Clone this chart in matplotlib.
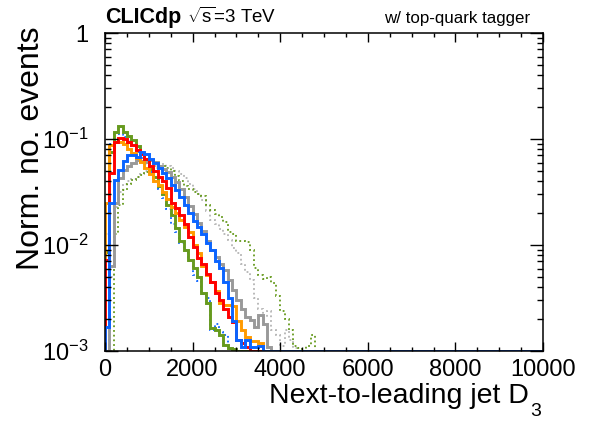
import numpy as np
import matplotlib
matplotlib.use('Agg')
import matplotlib.pyplot as plt
from matplotlib.ticker import MultipleLocator, FixedLocator, LogLocator, NullFormatter

plt.rcParams['font.family'] = ['Liberation Sans', 'DejaVu Sans']
plt.rcParams['mathtext.fontset'] = 'custom'
plt.rcParams['mathtext.rm'] = 'Liberation Sans'
plt.rcParams['mathtext.it'] = 'Liberation Sans:italic'
plt.rcParams['mathtext.bf'] = 'Liberation Sans:bold'

# histogram binning: 100 bins of width 100 from 0 to 10000
bin_edges = np.linspace(0, 10000, 101)

# normalised bin contents (bins not listed are empty)
green_solid = [0.0085, 0.0759, 0.117, 0.132, 0.117, 0.107, 0.0977, 0.0851, 0.0741, 0.0646,
               0.0525, 0.0437, 0.0363, 0.0302, 0.0240, 0.0191, 0.0145, 0.0110, 0.00891, 0.00724,
               0.00603, 0.00501, 0.00355, 0.00282, 0.00166, 0.00158, 0.00141, 0.00115, 0.00107, 0.00105]
red_solid = [0.00724, 0.0479, 0.0933, 0.102, 0.100, 0.0933, 0.0871, 0.0794, 0.0724, 0.0646,
             0.0562, 0.0501, 0.0437, 0.0398, 0.0347, 0.0251, 0.0224, 0.0191, 0.0158, 0.0120,
             0.00955, 0.00759, 0.00661, 0.00537, 0.00447, 0.00355, 0.00302, 0.00251, 0.00209, 0.00186,
             0.00126, 0.00120, 0.00110]
orange_solid = [0.0251, 0.0871, 0.0933, 0.0933, 0.0891, 0.0813, 0.0741, 0.0661, 0.0603, 0.0537,
                0.0468, 0.0398, 0.0372, 0.0316, 0.0269, 0.0229, 0.0200, 0.0174, 0.0148, 0.0132,
                0.0100, 0.00832, 0.00631, 0.00525, 0.00447, 0.00372, 0.00282, 0.00269, 0.00269, 0.00263,
                0.00191, 0.00158, 0.00135, 0.00123, 0.00123, 0.00120]
blue_solid = [0.00170, 0.0251, 0.0407, 0.0513, 0.0617, 0.0708, 0.0708, 0.0676, 0.0759, 0.0724,
              0.0646, 0.0589, 0.0537, 0.0479, 0.0427, 0.0372, 0.0331, 0.0282, 0.0240, 0.0200,
              0.0170, 0.0148, 0.0126, 0.0105, 0.00891, 0.00708, 0.00603, 0.00447, 0.00316, 0.00191,
              0.00126, 0.00110, 0.00126, 0.00110, 0.00110, 0.00112]
gray_solid = [0.0, 0.00631, 0.0251, 0.0427, 0.0513, 0.0562, 0.0589, 0.0631, 0.0617, 0.0603,
              0.0631, 0.0603, 0.0562, 0.0525, 0.0490, 0.0437, 0.0389, 0.0339, 0.0282, 0.0234,
              0.0195, 0.0162, 0.0135, 0.0110, 0.00891, 0.00776, 0.00661, 0.00575, 0.00468, 0.00380,
              0.00302, 0.00251, 0.00209, 0.00195, 0.00170, 0.00219, 0.00178, 0.00110]
gray_dotted = [0.0, 0.00501, 0.0229, 0.0316, 0.0380, 0.0398, 0.0417, 0.0437, 0.0468, 0.0501,
               0.0537, 0.0562, 0.0575, 0.0575, 0.0562, 0.0537, 0.0501, 0.0468, 0.0427, 0.0380,
               0.0339, 0.0302, 0.0263, 0.0209, 0.0174, 0.0158, 0.0141, 0.0126, 0.0112, 0.00933,
               0.00832, 0.00661, 0.00562, 0.00468, 0.00316, 0.00251, 0.00209, 0.00240, 0.00158, 0.00141,
               0.00112, 0.00158, 0.00126, 0.00107]
green_dotted = [0.0, 0.0, 0.0126, 0.0240, 0.0331, 0.0380, 0.0407, 0.0437, 0.0457, 0.0490,
                0.0513, 0.0537, 0.0562, 0.0562, 0.0537, 0.0501, 0.0447, 0.0398, 0.0363, 0.0339,
                0.0316, 0.0302, 0.0288, 0.0240, 0.0214, 0.0195, 0.0182, 0.0166, 0.0132, 0.0126,
                0.0110, 0.0110, 0.0107, 0.00891, 0.00603, 0.00525, 0.00479, 0.00501, 0.00437, 0.00331,
                0.00240, 0.00200, 0.00158, 0.00112, 0.00107, 0.0, 0.00112, 0.00141]
blue_dotted = [0.0126, 0.0891, 0.112, 0.112, 0.105, 0.0955, 0.0851, 0.0759, 0.0661, 0.0575,
               0.0490, 0.0417, 0.0339, 0.0275, 0.0219, 0.0158, 0.0132, 0.0105, 0.00891, 0.00708,
               0.00525, 0.00457, 0.00347, 0.00316, 0.00158, 0.00178, 0.00151, 0.00141, 0.00105]

y_ticks = [1e-3, 1e-2, 1e-1, 1]
y_tick_labels = ['$10^{-3}$', '$10^{-2}$', '$10^{-1}$', '1']
x_ticks = [0, 2000, 4000, 6000, 8000, 10000]

GREEN = '#669a1e'
RED = '#ff0000'
ORANGE = '#ff9a00'
BLUE = '#0a64ff'
GRAY = '#999999'
LIGHTGRAY = '#b4b4b4'

y_min, y_max = 1e-3, 1.0

fig = plt.figure(figsize=(5.9, 4.21), dpi=100)
ax = fig.add_axes([105 / 590, 70 / 421, 438 / 590, 318 / 421])

dots = (0, (1.0, 1.6))
series = [
    (gray_dotted, LIGHTGRAY, dots, 1.3),
    (green_dotted, GREEN, dots, 1.3),
    (blue_dotted, BLUE, dots, 1.3),
    (gray_solid, GRAY, '-', 2.1),
    (green_solid, GREEN, '-', 2.1),
    (orange_solid, ORANGE, '-', 2.1),
    (red_solid, RED, '-', 2.1),
    (blue_solid, BLUE, '-', 2.1),
]

n_bins = len(bin_edges) - 1
for vals, color, ls, lw in series:
    counts = np.zeros(n_bins)
    counts[:len(vals)] = vals
    # empty bins sit on the lower frame, as ROOT draws them
    counts = np.maximum(counts, y_min)
    ax.stairs(counts, bin_edges, baseline=y_min, color=color, linestyle=ls,
              linewidth=lw, fill=False)

ax.set_yscale('log')
ax.set_xlim(0, 10000)
ax.set_ylim(y_min, y_max)

ax.xaxis.set_major_locator(FixedLocator(x_ticks))
ax.xaxis.set_minor_locator(MultipleLocator(500))
ax.yaxis.set_major_locator(FixedLocator(y_ticks))
ax.set_yticklabels(y_tick_labels)
ax.yaxis.set_minor_locator(LogLocator(base=10, subs=np.arange(2, 10)))
ax.yaxis.set_minor_formatter(NullFormatter())

for side in ax.spines.values():
    side.set_linewidth(1.1)
ax.tick_params(which='both', direction='in', top=True, right=True, width=1.0,
               labelsize=17)
ax.tick_params(axis='x', which='major', length=6.5, pad=6)
ax.tick_params(axis='x', which='minor', length=3.2)
ax.tick_params(axis='y', which='major', length=9.4, pad=12)
ax.tick_params(axis='y', which='minor', length=4.6)

# axis titles, ROOT style: aligned to the far end of each axis
fig.text(529 / 590, 1 - 403 / 421, 'Next-to-leading jet D', fontsize=20.5,
         ha='right', va='baseline')
fig.text(530 / 590, 1 - 416 / 421, '3', fontsize=14, ha='left', va='baseline')
fig.text(31 / 590, 1 - 27 / 421, 'Norm. no. events', fontsize=23, rotation=90,
         ha='center', va='top')

fig.text(105 / 590, 1 - 23 / 421, 'CLICdp', fontsize=15.5, fontweight='bold',
         ha='left', va='baseline')
fig.text(187 / 590, 1 - 23 / 421, r'$\sqrt{\mathrm{s}}$=3 TeV', fontsize=13.5,
         ha='left', va='baseline')
fig.text(530 / 590, 1 - 23 / 421, 'w/ top-quark tagger', fontsize=12.2,
         ha='right', va='baseline')

fig.savefig('out.png', dpi=100)
